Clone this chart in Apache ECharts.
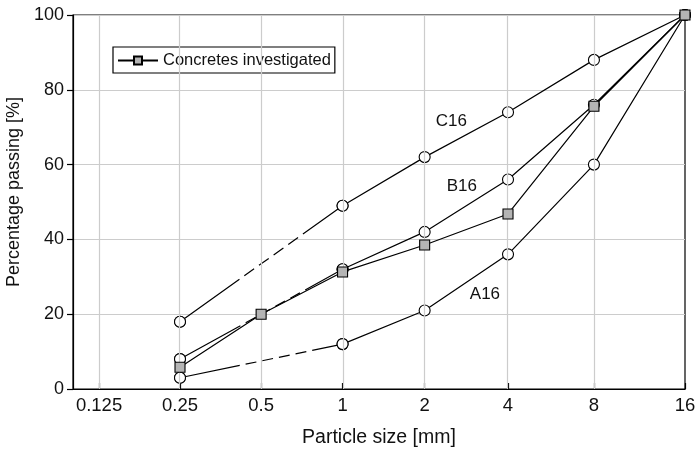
<!DOCTYPE html>
<html>
<head>
<meta charset="utf-8">
<script src="https://cdn.jsdelivr.net/npm/echarts@6/dist/echarts.min.js"></script>
<style>
  html, body { margin: 0; padding: 0; background: #fff; }
  #chart { width: 697px; height: 451px; }
</style>
</head>
<body>
<div id="chart"></div>
<script>
// Sieve sizes [mm] and the percentage passing for each grading curve.
// null = no sieve reading at that size (bridged with a dashed stretch).
const sieves = [0.25, 0.5, 1, 2, 4, 8, 16];
const a16 = [3, null, 12, 21, 36, 60, 100];
const b16 = [8, null, 32, 42, 56, 76, 100];
const c16 = [18, null, 49, 62, 74, 88, 100];
const concretes = [5.8, 20, 31.3, 38.5, 46.8, 75.6, 100];

const xTicks = [0.125, 0.25, 0.5, 1, 2, 4, 8, 16];
const yTicks = [0, 20, 40, 60, 80, 100];

// Curve names written next to the lines, anchored in data units.
const curveLabels = [
  { text: 'C16', size: 2.51, pass: 71.4 },
  { text: 'B16', size: 2.74, pass: 54.0 },
  { text: 'A16', size: 3.32, pass: 25.3 }
];

// Sieve axis: log2 spacing, slightly stretched toward the coarse end.
const STRETCH = 63;
const sx = d => Math.log2(d) + d / STRETCH;

const FONT = '"Liberation Sans", Arial, Helvetica, sans-serif';
const INK = '#000';
const TEXT = '#111';

const pts = vals => sieves.map((d, i) => [sx(d), vals[i]]);

// Pairs of neighbouring readings that straddle a missing sieve.
function bridges(vals) {
  const out = [];
  let last = -1;
  vals.forEach((v, i) => {
    if (v == null) return;
    if (last >= 0 && i - last > 1) out.push([[sx(sieves[last]), vals[last]], [sx(sieves[i]), v]]);
    last = i;
  });
  return out;
}

const circle = {
  symbol: 'circle', symbolSize: 11,
  itemStyle: { color: '#fff', borderColor: INK, borderWidth: 1.1 }
};

function curveSeries(name, vals, dash, z) {
  const list = [{
    name, type: 'line', data: pts(vals), connectNulls: false, z,
    lineStyle: { color: INK, width: 1.2 }, ...circle,
    animation: false, silent: true
  }];
  bridges(vals).forEach(pair => list.push({
    name: name + ' (bridge)', type: 'line', data: pair, z,
    lineStyle: { color: INK, width: 1.2, type: dash }, ...circle,
    animation: false, silent: true
  }));
  return list;
}

const series = [
  ...curveSeries('A16', a16, [61, 6, 11, 6, 11, 6, 11, 6, 11, 6, 300, 0], 3),
  ...curveSeries('B16', b16, [69, 6, 11, 6, 11, 6, 11, 6, 11, 6, 300, 0], 3),
  ...curveSeries('C16', c16, [73, 6, 12, 6, 12, 6, 12, 6, 12, 6, 300, 0], 3),
  {
    name: 'Concretes investigated', type: 'line', data: pts(concretes), z: 5,
    lineStyle: { color: INK, width: 1.2 },
    symbol: 'rect', symbolSize: 10,
    itemStyle: { color: '#b4b4b4', borderColor: INK, borderWidth: 1.1 },
    animation: false, silent: true
  },
  {
    name: 'labels', type: 'scatter', symbolSize: 1, z: 6, silent: true,
    itemStyle: { color: INK, opacity: 0 },
    data: curveLabels.map(l => ({ value: [sx(l.size), l.pass], name: l.text })),
    label: {
      show: true, position: [0, 0], align: 'center', verticalAlign: 'middle',
      formatter: p => p.name, textBorderWidth: 0,
      fontFamily: FONT, fontSize: 17, color: TEXT, opacity: 1
    },
    animation: false
  }
];

const chart = echarts.init(document.getElementById('chart'), null, { renderer: 'canvas' });
chart.setOption({
  backgroundColor: '#fff',
  animation: false,
  grid: {
    left: 73, right: 12, top: 15, bottom: 62,
    outerBoundsMode: 'none',
    show: true, borderColor: INK, borderWidth: 1.2, backgroundColor: 'transparent'
  },
  legend: {
    data: ['Concretes investigated'],
    left: 113, top: 47,
    orient: 'horizontal',
    itemWidth: 40, itemHeight: 10, itemGap: 5,
    padding: [5, 4, 4, 4],
    borderColor: INK, borderWidth: 1.2,
    textStyle: { fontFamily: FONT, fontSize: 16.5, color: TEXT },
    selectedMode: false
  },
  xAxis: {
    type: 'value',
    min: sx(0.1), max: sx(16),
    name: 'Particle size [mm]', nameLocation: 'middle', nameGap: 39,
    nameTextStyle: { fontFamily: FONT, fontSize: 19.5, color: TEXT },
    axisLine: { show: true, onZero: false, lineStyle: { color: INK, width: 1.2 } },
    axisTick: { show: true, inside: true, length: 6, customValues: xTicks.map(sx), lineStyle: { color: INK, width: 1.2 } },
    axisLabel: {
      customValues: xTicks.map(sx), margin: 7,
      formatter: v => {
        const hit = xTicks.find(t => Math.abs(sx(t) - v) < 1e-6);
        return hit === undefined ? '' : String(hit);
      },
      fontFamily: FONT, fontSize: 18.5, color: TEXT
    },
    splitLine: { show: false }
  },
  yAxis: {
    type: 'value', min: 0, max: 100, interval: 20,
    name: 'Percentage passing [%]', nameLocation: 'middle', nameGap: 44,
    nameTextStyle: { fontFamily: FONT, fontSize: 18, color: TEXT, padding: [0, 0, 0, 20] },
    axisLine: { show: true, onZero: false, lineStyle: { color: INK, width: 1.2 } },
    axisTick: { show: true, inside: false, length: 6, lineStyle: { color: INK, width: 1.2 } },
    axisLabel: { margin: 9, fontFamily: FONT, fontSize: 18, color: TEXT },
    splitLine: { show: true, lineStyle: { color: '#cccccc', width: 1.2 } }
  },
  series: [
    // vertical grid lines at each sieve tick
    {
      name: 'grid', type: 'line', data: [], silent: true, z: 1,
      markLine: {
        silent: true, symbol: 'none', label: { show: false },
        lineStyle: { color: '#cccccc', width: 1.2, type: 'solid' },
        data: xTicks.slice(0, -1).map(t => ({ xAxis: sx(t) })),
        animation: false
      }
    },
    ...series
  ]
});
</script>
</body>
</html>
